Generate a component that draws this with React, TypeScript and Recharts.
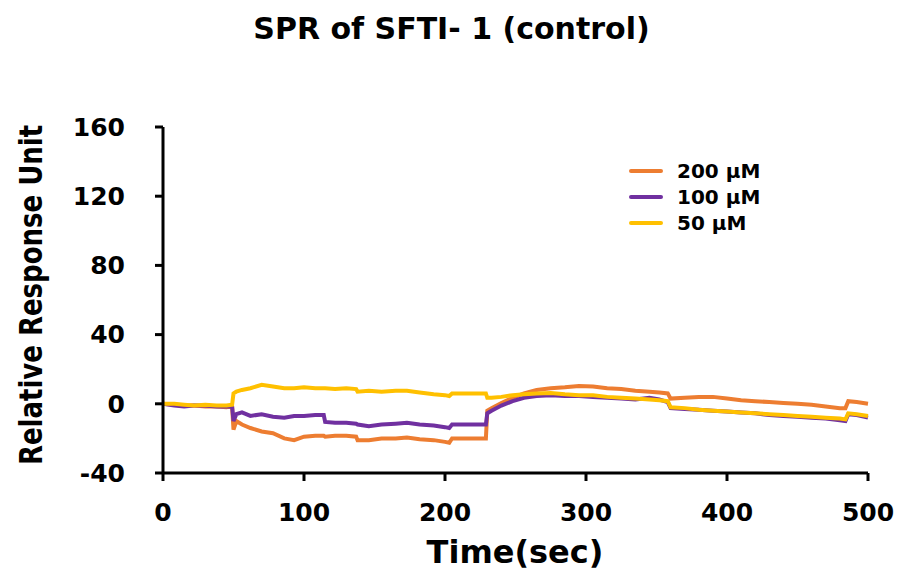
import { LineChart, Line, XAxis, YAxis, Legend } from 'recharts'

// sampled sensorgram, seconds
const times = [
  0, 8, 15, 22, 30, 38, 45, 49, 50, 52, 56, 62, 70, 78, 86, 93, 100, 108, 114, 115,
  122, 130, 137, 138, 146, 155, 165, 173, 182, 192, 200, 203, 205, 215, 229, 230, 233, 240, 248, 256,
  265, 275, 285, 295, 305, 315, 325, 335, 345, 352, 358, 360, 370, 380, 390, 400, 410, 420, 430, 440,
  450, 460, 470, 480, 484, 486, 492, 500,
]

const resp200 = [
  0, -0.5, -1, -1, -1.5, -1.5, -2, -1.5,
  -15, -10, -12, -14, -16, -17, -20, -21, -19, -18.5, -18.5, -19, -18.5, -18.5, -19, -21, -21, -20, -20, -19.5,
  -20.5, -21, -22, -22.5, -20, -20, -20, -4, -2.5, 0.5, 3.5, 6, 8, 9, 9.5, 10.3, 10, 9, 8.5, 7.5, 7, 6.5, 6,
  3, 3.5, 4, 4, 3, 2, 1.5, 1, 0.5, 0, -0.5, -1.5, -2.5, -2.5, 1.5, 1, 0,
]

const resp100 = [
  0, -1, -1.5, -1, -1, -1.5, -1.5, -1.5,
  -10, -6, -5, -7, -6, -7.5, -8, -7, -7, -6.5, -6.5, -10.5, -11, -11, -11.5, -12, -13, -12, -11.5, -11,
  -12, -12.5, -13.5, -14, -12, -12, -12, -5.5, -4, -1, 1.5, 3.5, 4.5, 5, 4.5, 4.5, 4, 3.5, 3, 2.5, 3.5, 2.5, 1,
  -2.5, -3, -3.5, -4, -4.5, -5, -5.5, -6.5, -7, -7.5, -8, -8.5, -9.5, -10, -6, -6.5, -8,
]

const resp50 = [
  0, 0, -0.5, -1, -0.5, -1, -1, -0.5,
  6, 7, 8, 9, 11, 10, 9, 9, 9.5, 9, 9, 9, 8.5, 9, 8.5, 7, 7.5, 7, 7.5, 7.5,
  6.5, 5.5, 5, 4.5, 6, 6, 6, 3.5, 3.5, 4, 5, 5.5, 6, 6.3, 5.5, 5, 5, 4, 3.5, 3, 2.5, 2, 1.5,
  -2, -2.5, -3.5, -4, -4.5, -5, -5.5, -6, -6.5, -7, -7.5, -8, -8.5, -9, -5.5, -6, -7,
]

const xTicks = [0, 100, 200, 300, 400, 500]
const yTicks = [-40, 0, 40, 80, 120, 160]

const series = [
  { key: 'c200', name: '200 µM', color: '#ED7D31' },
  { key: 'c100', name: '100 µM', color: '#7030A0' },
  { key: 'c50', name: '50 µM', color: '#FFC000' },
]

const data = times.map((t, i) => ({ t, c200: resp200[i], c100: resp100[i], c50: resp50[i] }))

const font = 'DejaVu Sans'
const tickStyle = { fill: '#000', fontSize: 25, fontWeight: 'bold', fontFamily: font }
const axisStroke = { stroke: '#000', strokeWidth: 3 }

function LegendBox() {
  return (
    <div style={{ fontFamily: font, fontWeight: 'bold', fontSize: 20, color: '#000' }}>
      {series.map(s => (
        <div key={s.key} style={{ display: 'flex', alignItems: 'center', height: 26 }}>
          <svg width={34} height={6}>
            <line x1={2} y1={3} x2={32} y2={3} stroke={s.color} strokeWidth={4} strokeLinecap="round" />
          </svg>
          <span style={{ marginLeft: 14 }}>{s.name}</span>
        </div>
      ))}
    </div>
  )
}

export default function App() {
  return (
    <div style={{ position: 'absolute', left: 0, top: 0, width: 903, height: 575, background: '#fff' }}>
      <div style={{ position: 'absolute', left: 0, top: 11, width: 903, textAlign: 'center', fontFamily: font, fontWeight: 'bold', fontSize: 30, color: '#000' }}>
        SPR of SFTI- 1 (control)
      </div>
      <LineChart width={903} height={575} data={data} margin={{ top: 127, right: 35, bottom: 0, left: 0 }}>
        <XAxis
          dataKey="t"
          type="number"
          domain={[0, 500]}
          ticks={xTicks}
          height={102}
          axisLine={axisStroke}
          tickLine={axisStroke}
          tickSize={8}
          tickMargin={22}
          tick={tickStyle}
          label={{
            content: () => (
              <text x={515} y={552} textAnchor="middle" dominantBaseline="central" fontFamily={font} fontWeight="bold" fontSize={32} fill="#000">
                Time(sec)
              </text>
            ),
          }}
        />
        <YAxis
          type="number"
          domain={[-40, 160]}
          ticks={yTicks}
          width={163}
          axisLine={axisStroke}
          tickLine={axisStroke}
          tickSize={8}
          tickMargin={30}
          tick={tickStyle}
          label={{
            content: () => (
              <text x={0} y={0} transform="translate(31 295) rotate(-90) scale(1 1.25)" textAnchor="middle" dominantBaseline="central" fontFamily={font} fontWeight="bold" fontSize={26} fill="#000">
                Relative Response Unit
              </text>
            ),
          }}
        />
        {series.map(s => (
          <Line key={s.key} dataKey={s.key} name={s.name} type="linear" stroke={s.color} strokeWidth={4} dot={false} isAnimationActive={false} />
        ))}
        <Legend
          content={LegendBox}
          layout="horizontal"
          align="center"
          verticalAlign="middle"
          wrapperStyle={{ position: 'absolute', left: 629, top: 158, width: 'auto' }}
        />
      </LineChart>
    </div>
  )
}
